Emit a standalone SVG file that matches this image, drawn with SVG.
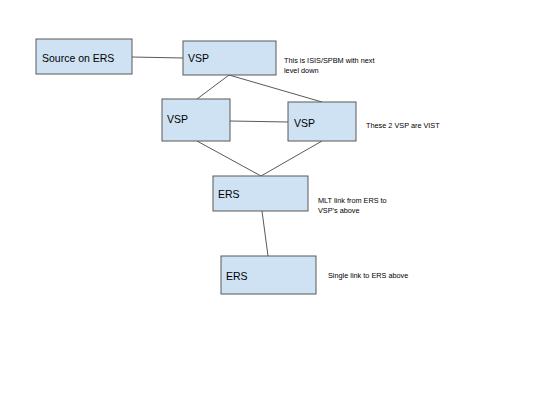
<svg xmlns="http://www.w3.org/2000/svg" width="539" height="404" viewBox="0 0 539 404">
<style>
.box{fill:#cfe2f3;stroke:#595959;stroke-width:1}
.lbl{font-family:"Liberation Sans",Arial,sans-serif;font-size:10.5px;fill:#000}
.note{font-family:"Liberation Sans",Arial,sans-serif;font-size:7.3px;fill:#000}
.ln{stroke:#595959;stroke-width:1;fill:none}
</style>
<rect width="539" height="404" fill="#fff"/>
<g id="connectors">
<line class="ln" x1="132" y1="57" x2="183" y2="58"/>
<line class="ln" x1="229" y1="75" x2="197" y2="99"/>
<line class="ln" x1="229" y1="75" x2="322" y2="102"/>
<line class="ln" x1="230" y1="121" x2="288" y2="122"/>
<line class="ln" x1="197" y1="141" x2="261" y2="176"/>
<line class="ln" x1="322" y1="141" x2="261" y2="176"/>
<line class="ln" x1="262" y1="211" x2="268" y2="256"/>
</g>
<g id="source">
<rect class="box" x="36" y="39" width="96" height="35"/>
<text class="lbl" x="42" y="62">Source on ERS</text>
</g>
<g id="vsp-top">
<rect class="box" x="183" y="41" width="93" height="34"/>
<text class="lbl" x="188" y="62">VSP</text>
</g>
<g id="vsp-left">
<rect class="box" x="162" y="99" width="68" height="42"/>
<text class="lbl" x="167" y="123">VSP</text>
</g>
<g id="vsp-right">
<rect class="box" x="288" y="102" width="68" height="39"/>
<text class="lbl" x="294" y="127">VSP</text>
</g>
<g id="ers-mid">
<rect class="box" x="213" y="176" width="95" height="35"/>
<text class="lbl" x="218" y="198">ERS</text>
</g>
<g id="ers-bottom">
<rect class="box" x="221" y="256" width="95" height="38"/>
<text class="lbl" x="226" y="280">ERS</text>
</g>
<g id="notes">
<text class="note" x="284" y="63">This is ISIS/SPBM with next</text>
<text class="note" x="284" y="73">level down</text>
<text class="note" x="366" y="128">These 2 VSP are VIST</text>
<text class="note" x="318" y="203">MLT link from ERS to</text>
<text class="note" x="318" y="213">VSP's above</text>
<text class="note" x="328" y="278">Single link to ERS above</text>
</g>
</svg>
